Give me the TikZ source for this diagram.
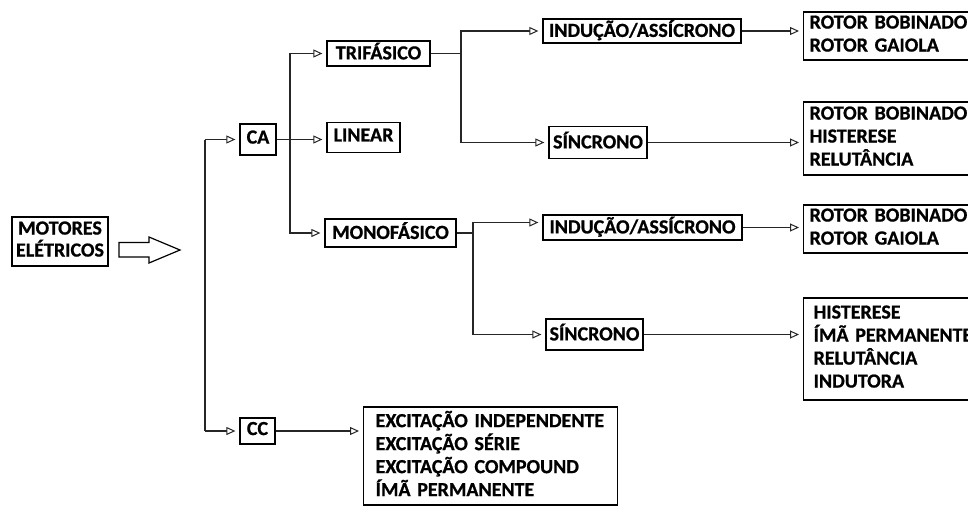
\documentclass[tikz,border=0pt]{standalone}
\usepackage{fontspec}
\setmainfont{Carlito}[WordSpace=0.8, BoldFeatures={FakeBold=0.8}]
\usetikzlibrary{arrows.meta}
\newcommand\sline{\rule[-5pt]{0pt}{17.5pt}}
\begin{document}
\begin{tikzpicture}[x=1pt,y=-1pt,
  font=\bfseries\fontsize{20}{23}\selectfont,
  box/.style={draw=black, line width=1.3pt, inner sep=0pt, align=center},
  mbox/.style={draw=black, line width=1.3pt, inner ysep=0pt, inner xsep=6pt, anchor=west, text width=200pt, align=left},
  link/.style={line width=1.2pt, draw=black!85},
  arr/.style={link, -{Triangle[open, length=9pt, width=8pt, line width=1pt, fill=white]}, shorten >=4pt}]
\useasboundingbox (0,0) rectangle (968,507);
\clip (0,0) rectangle (968,507);

% left
\node[box, minimum width=96pt, minimum height=49pt] (mot) at (60,241.5) {\sline MOTORES\\[-1pt]\sline ELÉTRICOS};
\draw[line width=1.2pt] (119,242.5) -- (149,242.5) -- (149,237) -- (180,250) -- (149,263) -- (149,257) -- (119,257) -- cycle;

% level 1
\node[box, minimum width=36pt, minimum height=31pt] (CA) at (258,139.5) {\sline CA};
\node[box, minimum width=35pt, minimum height=26pt] (CC) at (257.5,431) {\sline CC};

% level 2
\node[box, minimum width=103pt, minimum height=25pt] (TRI) at (378.5,53.5) {\sline TRIFÁSICO};
\node[box, minimum width=73pt, minimum height=30pt] (LIN) at (363.5,137.5) {\sline LINEAR};
\node[box, minimum width=131pt, minimum height=28pt] (MON) at (390.5,233) {\sline MONOFÁSICO};

% level 3
\node[box, minimum width=198pt, minimum height=24pt] (IND1) at (642,31) {\sline INDUÇÃO/ASSÍCRONO};
\node[box, minimum width=98pt, minimum height=32pt] (SIN1) at (598,142.5) {\sline SÍNCRONO};
\node[box, minimum width=199pt, minimum height=25pt] (IND2) at (642.5,227.5) {\sline INDUÇÃO/ASSÍCRONO};
\node[box, minimum width=97pt, minimum height=31pt] (SIN2) at (594.5,334.5) {\sline SÍNCRONO};

% leaf boxes
\node[mbox, minimum height=48pt] (rA) at (803,36) {\sline ROTOR BOBINADO\\\sline ROTOR GAIOLA};
\node[mbox, minimum height=73pt] (rB) at (803,138.5) {\sline ROTOR BOBINADO\\\sline HISTERESE\\\sline RELUTÂNCIA};
\node[mbox, minimum height=48pt] (rC) at (803,229) {\sline ROTOR BOBINADO\\\sline ROTOR GAIOLA};
\node[mbox, minimum height=102pt, inner xsep=10pt] (rD) at (803,349) {\sline HISTERESE\\\sline ÍMÃ PERMANENTE\\\sline RELUTÂNCIA\\\sline INDUTORA};
\node[mbox, minimum height=98pt, inner xsep=12pt, text width=230pt] (rE) at (363,456) {\sline EXCITAÇÃO INDEPENDENTE\\\sline EXCITAÇÃO SÉRIE\\\sline EXCITAÇÃO COMPOUND\\\sline ÍMÃ PERMANENTE};

% connectors
\coordinate (tA) at (205,139.5);
\coordinate (tC) at (205,431);
\draw[link] (tA) -- (tC);
\draw[arr] (tA) -- (CA.west);
\draw[arr] (tC) -- (CC.west);

\coordinate (jA) at (290,139.5);
\draw[link] (CA.east) -- (jA);
\draw[arr] (jA) -- (LIN.west |- jA);
\draw[arr] (jA) |- (TRI.west);
\draw[arr] (jA) |- (MON.west);

\coordinate (jB) at (461,53.5);
\draw[link] (TRI.east) -- (jB);
\draw[arr] (jB) |- (IND1.west);
\draw[arr] (jB) |- (SIN1.west);

\coordinate (jC) at (473,233);
\draw[link] (MON.east) -- (jC);
\draw[arr] (jC) |- ([yshift=5pt]IND2.west);
\draw[arr] (jC) |- (SIN2.west);

\draw[arr] (IND1.east) -- (IND1.east -| rA.west);
\draw[arr] (SIN1.east) -- (SIN1.east -| rB.west);
\draw[arr] (IND2.east) -- (IND2.east -| rC.west);
\draw[arr] (SIN2.east) -- (SIN2.east -| rD.west);
\draw[arr] (CC.east) -- (CC.east -| rE.west);
\end{tikzpicture}
\end{document}
